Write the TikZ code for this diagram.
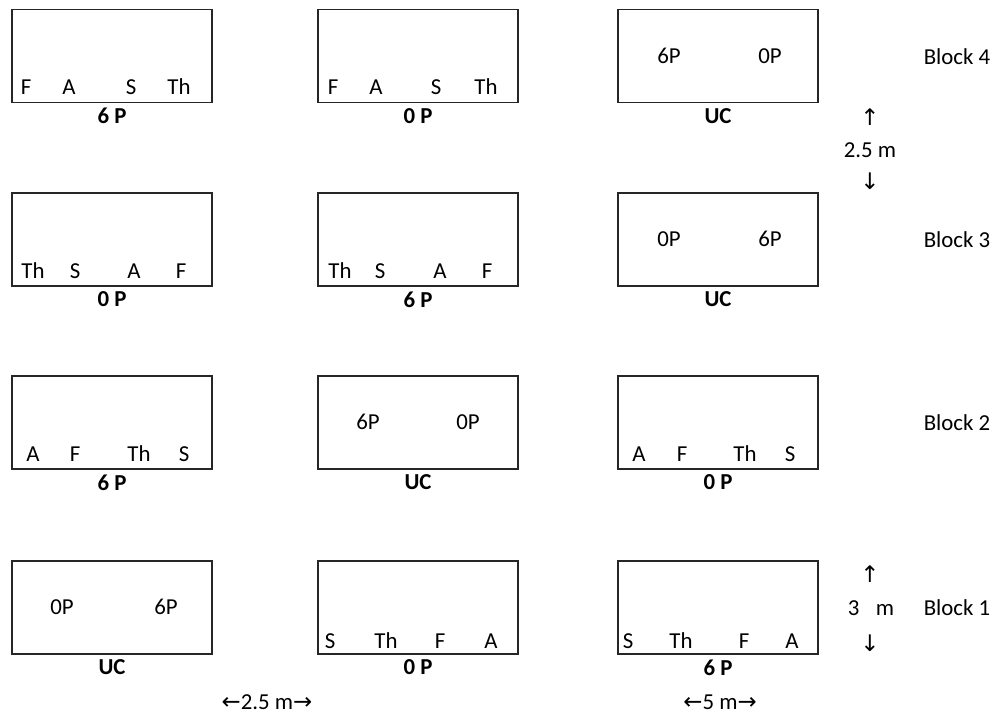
\documentclass[tikz,border=0pt]{standalone}
\usepackage{fontspec}
\setmainfont{Carlito}
\newfontfamily\arw{DejaVu Sans}
\usetikzlibrary{positioning}

\begin{document}
\begin{tikzpicture}[
    x=0.02cm, y=-0.02cm,
    plot/.style={rectangle, draw=black!85, line width=1.1pt, minimum width=4cm, minimum height=1.86cm, inner sep=0pt},
    trt/.style={font=\fontsize{13}{15}\selectfont, inner sep=0pt, anchor=base},
    lab/.style={font=\fontsize{13}{15}\selectfont\bfseries, inner sep=1pt},
    dim/.style={font=\fontsize{13}{15}\selectfont, inner sep=1pt}
]
\useasboundingbox (0,0) rectangle (997,715);
% Block 4
\node (b4a) [plot] at (112,56) {};
\node (b4b) [plot] at (418,56) {};
\node (b4c) [plot] at (718,56) {};
\node (t4a1) [trt] at (26,95) {F};
\node (t4a2) [trt] at (69,95) {A};
\node (t4a3) [trt] at (131,95) {S};
\node (t4a4) [trt] at (179,95) {Th};
\node (t4b1) [trt] at (333,95) {F};
\node (t4b2) [trt] at (376,95) {A};
\node (t4b3) [trt] at (436,95) {S};
\node (t4b4) [trt] at (486,95) {Th};
\node (t4c1) [trt] at (669,64) {6P};
\node (t4c2) [trt] at (770,64) {0P};
\node (l4a) [lab, below=1.5pt of b4a] {6 P};
\node (l4b) [lab, below=1.5pt of b4b] {0 P};
\node (l4c) [lab, below=1.5pt of b4c] {UC};
\node (k4) [dim] at (957,57) {Block 4};
% Block 3
\node (b3a) [plot] at (112,239.5) {};
\node (b3b) [plot] at (418,239.5) {};
\node (b3c) [plot] at (718,239.5) {};
\node (t3a1) [trt] at (33,279) {Th};
\node (t3a2) [trt] at (75,279) {S};
\node (t3a3) [trt] at (134,279) {A};
\node (t3a4) [trt] at (181,279) {F};
\node (t3b1) [trt] at (340,279) {Th};
\node (t3b2) [trt] at (380,279) {S};
\node (t3b3) [trt] at (440,279) {A};
\node (t3b4) [trt] at (487,279) {F};
\node (t3c1) [trt] at (669,247) {0P};
\node (t3c2) [trt] at (770,247) {6P};
\node (l3a) [lab, below=1.5pt of b3a] {0 P};
\node (l3b) [lab, below=1.5pt of b3b] {6 P};
\node (l3c) [lab, below=1.5pt of b3c] {UC};
\node (k3) [dim] at (957,240) {Block 3};
% Block 2
\node (b2a) [plot] at (112,422.5) {};
\node (b2b) [plot] at (418,422.5) {};
\node (b2c) [plot] at (718,422.5) {};
\node (t2a1) [trt] at (33,462) {A};
\node (t2a2) [trt] at (75,462) {F};
\node (t2a3) [trt] at (139,462) {Th};
\node (t2a4) [trt] at (184,462) {S};
\node (t2b1) [trt] at (368,430) {6P};
\node (t2b2) [trt] at (468,430) {0P};
\node (t2c1) [trt] at (639,462) {A};
\node (t2c2) [trt] at (682,462) {F};
\node (t2c3) [trt] at (745,462) {Th};
\node (t2c4) [trt] at (790,462) {S};
\node (l2a) [lab, below=1.5pt of b2a] {6 P};
\node (l2b) [lab, below=1.5pt of b2b] {UC};
\node (l2c) [lab, below=1.5pt of b2c] {0 P};
\node (k2) [dim] at (957,423) {Block 2};
% Block 1
\node (b1a) [plot] at (112,607.5) {};
\node (b1b) [plot] at (418,607.5) {};
\node (b1c) [plot] at (718,607.5) {};
\node (t1a1) [trt] at (62,615) {0P};
\node (t1a2) [trt] at (166,615) {6P};
\node (t1b1) [trt] at (330,648) {S};
\node (t1b2) [trt] at (386,648) {Th};
\node (t1b3) [trt] at (440,648) {F};
\node (t1b4) [trt] at (491,648) {A};
\node (t1c1) [trt] at (628,648) {S};
\node (t1c2) [trt] at (681,648) {Th};
\node (t1c3) [trt] at (744,648) {F};
\node (t1c4) [trt] at (792,648) {A};
\node (l1a) [lab, below=1.5pt of b1a] {UC};
\node (l1b) [lab, below=1.5pt of b1b] {0 P};
\node (l1c) [lab, below=1.5pt of b1c] {6 P};
\node (k1) [dim] at (957,608) {Block 1};
% spacings
\node (gu) [dim] at (870,117) {\arw ↑};
\node (gm) [dim] at (870,150) {2.5 m};
\node (gd) [dim] at (870,181) {\arw ↓};
\node (hu) [dim] at (870,574) {\arw ↑};
\node (hm) [dim] at (871,608) {3\enspace\ m};
\node (hd) [dim] at (870,643) {\arw ↓};
\node (wg) [dim] at (267,702) {{\arw ←}2.5 m{\arw →}};
\node (wp) [dim] at (720,702) {{\arw ←}5 m{\arw →}};
\end{tikzpicture}
\end{document}
